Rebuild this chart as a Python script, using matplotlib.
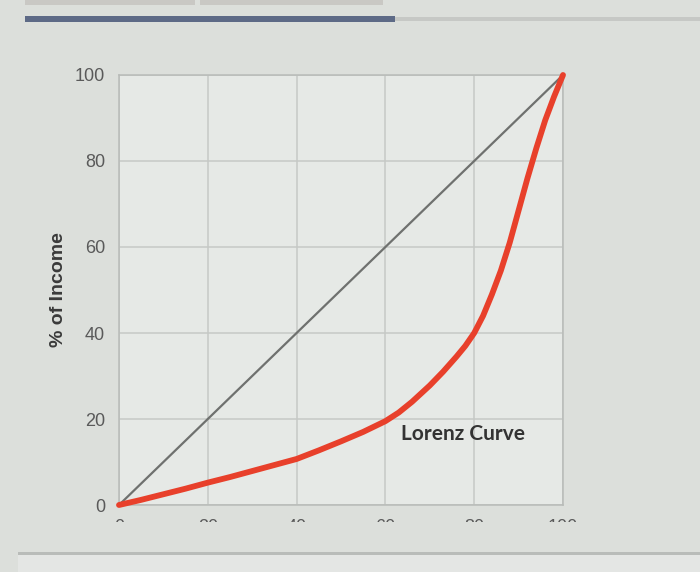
import matplotlib
matplotlib.use("Agg")
import matplotlib.pyplot as plt
from matplotlib.patches import Rectangle
from matplotlib.transforms import Bbox

# Data
pop_share = [0, 5, 10, 15, 20, 25, 30, 35, 40, 45, 50, 55, 60, 63, 66, 70, 73, 76, 78,
             80, 82, 84, 86, 88, 90, 92, 94, 96, 98, 100]
income_share = [0, 1.2, 2.5, 3.8, 5.2, 6.5, 7.9, 9.3, 10.7, 12.7, 14.8, 17, 19.5, 21.5,
                24, 27.8, 31, 34.5, 37, 40, 44, 49, 54.5, 61, 68.5, 76, 83, 89.5, 95, 100]
equality_x = [0, 100]
equality_y = [0, 100]
x_ticks = [0, 20, 40, 60, 80, 100]
y_ticks = [0, 20, 40, 60, 80, 100]
y_label = "% of Income"
curve_label = "Lorenz Curve"

W, H = 700, 572
fig = plt.figure(figsize=(W / 100, H / 100), dpi=100)
fig.patch.set_facecolor("#dcdfdb")

# screen decorations (photo of a web page)
def frect(x0, y0, x1, y1, color, z=0):
    fig.patches.append(Rectangle((x0 / W, 1 - y1 / H), (x1 - x0) / W, (y1 - y0) / H,
                                 transform=fig.transFigure, color=color, zorder=z, lw=0))

frect(25, 0, 195, 5, "#c9c8c4")
frect(200, 0, 383, 5, "#c9c8c4")
frect(395, 17, 700, 21, "#c6c8c5")
frect(25, 16, 395, 22, "#5d6a86")
frect(18, 552, 700, 555, "#b9bcb9")
frect(18, 555, 700, 572, "#e4e6e4")

ax = fig.add_axes([119 / W, 67 / H, 444 / W, 430 / H])
ax.set_facecolor("#e6e9e6")
ax.set_xlim(0, 100)
ax.set_ylim(0, 100)
ax.set_xticks(x_ticks)
ax.set_yticks(y_ticks)
ax.grid(True, color="#c6c9c6", lw=1.1)
ax.set_axisbelow(True)
for s in ax.spines.values():
    s.set_color("#b8bbb8")
    s.set_linewidth(1.1)
ax.tick_params(length=0, labelsize=12, labelcolor="#5a5a5a", pad=10)
for lab in ax.get_yticklabels():
    lab.set_family("Liberation Sans")
    lab.set_fontsize(13)

ax.plot(equality_x, equality_y, color="#6f716f", lw=1.6, zorder=3)
ax.plot(pop_share, income_share, color="#e8402b", lw=4.2, solid_capstyle="round",
        solid_joinstyle="round", zorder=4, clip_on=False)

ax.set_ylabel(y_label, family="Liberation Sans", fontweight="bold", fontsize=14,
              color="#3a3a3a", labelpad=6)
ax.text(63.5, 16.5, curve_label, family="Lato", fontweight="bold", fontsize=15,
        color="#333333", ha="left", va="center")

# x tick labels cut off by the screen edge
fig.canvas.draw()
clip = Bbox.from_extents(0, H - 522, W, H)
for lab in ax.get_xticklabels():
    lab.set_family("Liberation Sans")
    lab.set_fontsize(13)
    lab.set_clip_box(clip)
    lab.set_clip_on(True)

fig.savefig("out.png", dpi=100, facecolor=fig.get_facecolor())
